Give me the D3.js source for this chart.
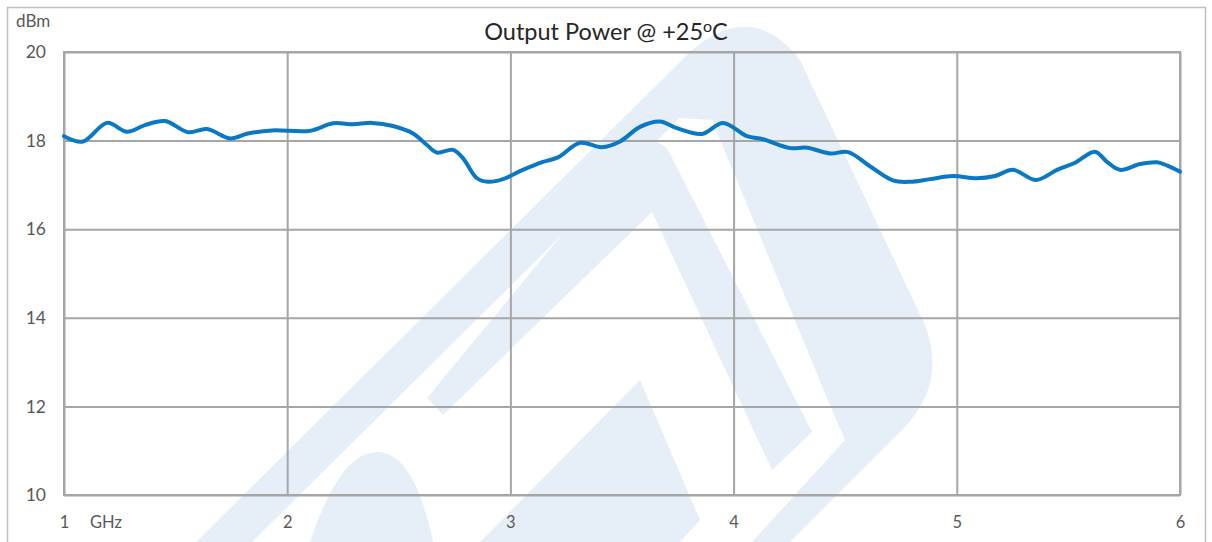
<!DOCTYPE html>
<html>
<head>
<meta charset="utf-8">
<script src="https://cdn.jsdelivr.net/npm/d3@7"></script>
<style>
  html, body { margin: 0; padding: 0; background: #ffffff; }
  svg { display: block; }
  text { font-family: Lato, "Open Sans", "Liberation Sans", sans-serif; }
</style>
</head>
<body>
<div id="chart"></div>
<script>
// ---- data ----
const freqGHz = [1.000, 1.085, 1.193, 1.282, 1.363, 1.453, 1.556, 1.641, 1.744, 1.824, 1.932,
  2.102, 2.205, 2.295, 2.380, 2.474, 2.564, 2.626, 2.671, 2.743, 2.788, 2.850, 2.900, 2.967,
  3.056, 3.146, 3.213, 3.312, 3.410, 3.491, 3.581, 3.670, 3.746, 3.858, 3.953,
  4.060, 4.132, 4.253, 4.329, 4.432, 4.513, 4.611, 4.714, 4.790, 4.880, 4.983,
  5.090, 5.171, 5.252, 5.355, 5.449, 5.530, 5.619, 5.673, 5.731, 5.821, 5.897, 5.946, 6.000];
const outputPower = [18.10, 17.98, 18.40, 18.20, 18.35, 18.44, 18.19, 18.26, 18.05, 18.16, 18.23,
  18.22, 18.39, 18.37, 18.40, 18.33, 18.16, 17.90, 17.73, 17.79, 17.60, 17.15, 17.07, 17.13,
  17.34, 17.52, 17.62, 17.95, 17.85, 17.98, 18.31, 18.43, 18.28, 18.15, 18.40,
  18.10, 18.03, 17.83, 17.84, 17.71, 17.74, 17.42, 17.10, 17.07, 17.13, 17.20,
  17.15, 17.20, 17.34, 17.11, 17.34, 17.50, 17.75, 17.52, 17.34, 17.47, 17.51, 17.43, 17.30];
const xTickValues = [1, 2, 3, 4, 5, 6];
const yTickValues = [10, 12, 14, 16, 18, 20];
const titleMain = "Output Power @ +25";
const titleSup = "o";
const titleEnd = "C";
const yUnit = "dBm";
const xUnit = "GHz";

// ---- layout ----
const W = 1212, H = 542;
const plotL = 64, plotR = 1180, plotT = 52, plotB = 495;

const svg = d3.select("#chart").append("svg")
  .attr("width", W).attr("height", H);

// watermark (decorative, faint)
const wm = svg.append("g").attr("fill", "#e6eef7");
wm.append("path").attr("d", "M 196 542 L 690 52 Q 752 -2 800 60 L 925 325 Q 948 385 900 432 L 790 542 Z");
wm.append("path").attr("fill", "#ffffff")
  .attr("d", "M 252 542 L 680 118 L 712 120 L 832 410 L 845 440 L 752 542 Z");
wm.append("path").attr("d", "M 427 398 L 443 415 L 652 212 L 772 470 L 812 432 L 668 150 Q 652 132 632 150 Z");
wm.append("path").attr("fill", "#ffffff")
  .attr("d", "M 540 350 L 560 372 L 650 282 L 720 440 L 748 420 L 660 232 Z");
wm.append("path").attr("d", "M 310 542 Q 340 452 377 452 Q 414 452 433 542 Z");
wm.append("path").attr("d", "M 480 542 L 640 380 L 700 520 L 680 542 Z");

// outer frame
svg.append("rect")
  .attr("x", 7.5).attr("y", 7.5).attr("width", 1198).attr("height", 560)
  .attr("fill", "none").attr("stroke", "#bfbfbf").attr("stroke-width", 1.5);

const x = d3.scaleLinear().domain([1, 6]).range([plotL, plotR]);
const y = d3.scaleLinear().domain([10, 20]).range([plotB, plotT]);

// y axis + horizontal grid
const gy = svg.append("g").attr("transform", `translate(${plotL},0)`)
  .call(d3.axisLeft(y).tickValues(yTickValues).tickSize(-(plotR - plotL)).tickPadding(18).tickFormat(d3.format("d")));
gy.select(".domain").remove();
gy.selectAll(".tick line").attr("stroke", "#a6a6a6").attr("stroke-width", 2);
gy.selectAll(".tick text").attr("fill", "#595959").style("font-size", "17.5px")
  .style("font-family", "Lato, 'Open Sans', sans-serif");

// x axis + vertical grid
const gx = svg.append("g").attr("transform", `translate(0,${plotB})`)
  .call(d3.axisBottom(x).tickValues(xTickValues).tickSize(-(plotB - plotT)).tickPadding(21).tickFormat(d3.format("d")));
gx.select(".domain").remove();
gx.selectAll(".tick line").attr("stroke", "#a6a6a6").attr("stroke-width", 2);
gx.selectAll(".tick text").attr("fill", "#595959").style("font-size", "16.5px")
  .style("font-family", "Lato, 'Open Sans', sans-serif");

// plot border
svg.append("rect")
  .attr("x", plotL).attr("y", plotT).attr("width", plotR - plotL).attr("height", plotB - plotT)
  .attr("fill", "none").attr("stroke", "#a6a6a6").attr("stroke-width", 2);

// curve
const data = freqGHz.map((f, i) => ({ f, p: outputPower[i] }));
const line = d3.line().x(d => x(d.f)).y(d => y(d.p)).curve(d3.curveCatmullRom.alpha(0.5));
svg.append("path").datum(data)
  .attr("d", line)
  .attr("fill", "none")
  .attr("stroke", "#0a78c2")
  .attr("stroke-width", 4)
  .attr("stroke-linejoin", "round")
  .attr("stroke-linecap", "round");

// title
const t = svg.append("text")
  .attr("x", 606).attr("y", 40)
  .attr("text-anchor", "middle")
  .attr("fill", "#262626")
  .style("font-size", "23.5px");
t.append("tspan").text(titleMain);
t.append("tspan").attr("dy", -8).style("font-size", "16px").text(titleSup);
t.append("tspan").attr("dy", 8).text(titleEnd);

// unit labels
svg.append("text").attr("x", 16).attr("y", 27).attr("fill", "#595959")
  .style("font-size", "17px").text(yUnit);
svg.append("text").attr("x", 90).attr("y", 528).attr("fill", "#595959")
  .style("font-size", "16.5px").text(xUnit);
</script>
</body>
</html>
